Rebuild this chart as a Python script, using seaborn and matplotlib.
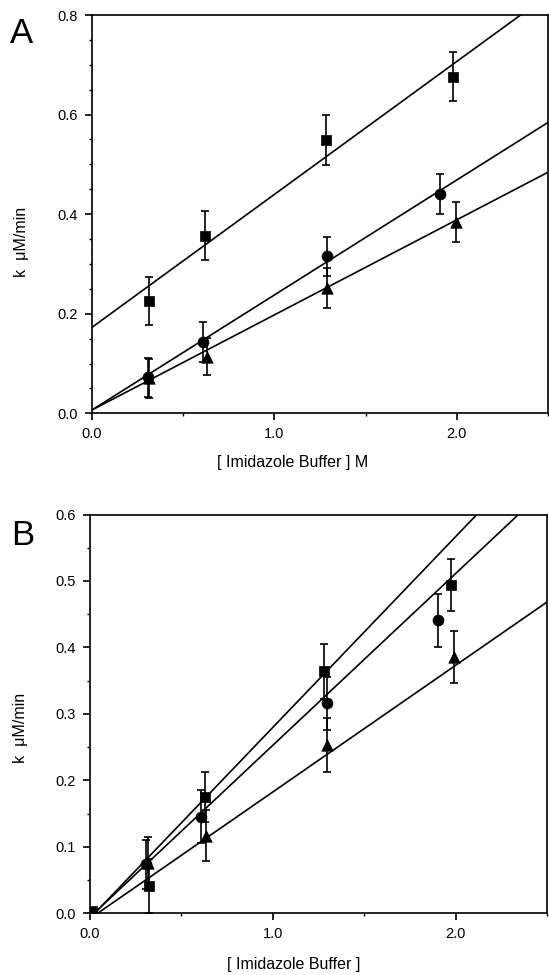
import numpy as np
import pandas as pd
import matplotlib
matplotlib.use("Agg")
import matplotlib.pyplot as plt
import seaborn as sns
from matplotlib.ticker import MultipleLocator, FormatStrFormatter

# ---------------- data ----------------
# Panel A
a_sq_x = [0.314, 0.621, 1.282, 1.977]
a_sq_y = [0.226, 0.357, 0.549, 0.676]
a_sq_err = [0.048, 0.050, 0.051, 0.049]
a_ci_x = [0.307, 0.607, 1.291, 1.910]
a_ci_y = [0.072, 0.144, 0.315, 0.440]
a_ci_err = [0.040, 0.040, 0.039, 0.040]
a_tr_x = [0.314, 0.630, 1.291, 1.998]
a_tr_y = [0.070, 0.114, 0.251, 0.384]
a_tr_err = [0.040, 0.038, 0.040, 0.040]
a_fit_slope = [0.267, 0.231, 0.191]
a_fit_icpt = [0.1727, 0.0067, 0.0067]

# Panel B
b_sq_x = [0.010, 0.3215, 0.628, 1.282, 1.977]
b_sq_y = [0.003, 0.041, 0.175, 0.364, 0.494]
b_sq_err = [0.0, 0.041, 0.038, 0.041, 0.039]
b_ci_x = [0.306, 0.609, 1.296, 1.906]
b_ci_y = [0.074, 0.145, 0.316, 0.441]
b_ci_err = [0.037, 0.040, 0.040, 0.040]
b_tr_x = [0.316, 0.635, 1.296, 1.990]
b_tr_y = [0.075, 0.117, 0.253, 0.385]
b_tr_err = [0.040, 0.039, 0.041, 0.039]
b_fit_slope = [0.287, 0.2584, 0.1905]
b_fit_icpt = [-0.0074, -0.0057, -0.008]

x_ticks = [0.0, 1.0, 2.0]
a_y_ticks = [0.0, 0.2, 0.4, 0.6, 0.8]
b_y_ticks = [0.0, 0.1, 0.2, 0.3, 0.4, 0.5, 0.6]

# ---------------- style ----------------
sns.set_style("ticks")
plt.rcParams['font.family'] = ['Liberation Sans', 'DejaVu Sans']
plt.rcParams['text.color'] = 'black'
plt.rcParams['axes.labelcolor'] = 'black'

fig = plt.figure(figsize=(5.49, 9.75), dpi=100)
axA = fig.add_axes([0.1676, 0.5761, 0.8306, 0.4085])
axB = fig.add_axes([0.1639, 0.0633, 0.8324, 0.409])

markers = ['s', 'o', '^']
sizes = [55, 62, 68]


def draw(ax, xs, ys, errs, slopes, icpts, ymax, yticks, xlabel, xl_pos, yl_pos):
    ax.set_xlim(0, 2.5)
    ax.set_ylim(0, ymax)
    # fitted lines
    xr = [0.0, 2.5]
    for s, b in zip(slopes, icpts):
        df = pd.DataFrame({"x": xr, "y": [b + s * v for v in xr]})
        sns.lineplot(data=df, x="x", y="y", ax=ax, color="black", lw=1.2,
                     zorder=2)
    # error bars + markers
    for i, (x, y, e) in enumerate(zip(xs, ys, errs)):
        ax.errorbar(x, y, yerr=e, fmt='none', ecolor='black', elinewidth=1.2,
                    capsize=3.2, capthick=1.2, zorder=3)
        df = pd.DataFrame({"x": x, "y": y})
        sns.scatterplot(data=df, x="x", y="y", ax=ax, marker=markers[i],
                        s=sizes[i], color="black", edgecolor="black",
                        linewidth=0.5, zorder=4)
    ax.set_xticks(x_ticks)
    ax.set_yticks(yticks)
    ax.xaxis.set_minor_locator(MultipleLocator(0.5))
    ax.yaxis.set_minor_locator(MultipleLocator(0.05))
    ax.xaxis.set_major_formatter(FormatStrFormatter('%.1f'))
    ax.yaxis.set_major_formatter(FormatStrFormatter('%.1f'))
    ax.tick_params(which='major', direction='out', length=5, width=1.2,
                   pad=5, labelsize=10.5, colors='black')
    ax.tick_params(which='minor', direction='out', length=2.5, width=1.0,
                   colors='black')
    for sp in ax.spines.values():
        sp.set_visible(True)
        sp.set_color('black')
        sp.set_linewidth(1.2)
    ax.set_xlabel(xlabel, fontsize=11.5, color='black')
    ax.set_ylabel("k  \u03bcM/min", fontsize=11.5, color='black')
    ax.xaxis.set_label_coords(*xl_pos)
    ax.yaxis.set_label_coords(*yl_pos)


draw(axA, [a_sq_x, a_ci_x, a_tr_x], [a_sq_y, a_ci_y, a_tr_y],
     [a_sq_err, a_ci_err, a_tr_err], a_fit_slope, a_fit_icpt, 0.8, a_y_ticks,
     "[ Imidazole Buffer ] M", (0.44, -0.105), (-0.138, 0.43))
draw(axB, [b_sq_x, b_ci_x, b_tr_x], [b_sq_y, b_ci_y, b_tr_y],
     [b_sq_err, b_ci_err, b_tr_err], b_fit_slope, b_fit_icpt, 0.6, b_y_ticks,
     "[ Imidazole Buffer ]", (0.445, -0.11), (-0.135, 0.465))

fig.text(10 / 549, 1 - 43 / 975, "A", fontsize=25, ha='left', va='baseline',
         color='black')
fig.text(11 / 549, 1 - 545 / 975, "B", fontsize=25, ha='left', va='baseline',
         color='black')

fig.savefig("out.png", dpi=100)
